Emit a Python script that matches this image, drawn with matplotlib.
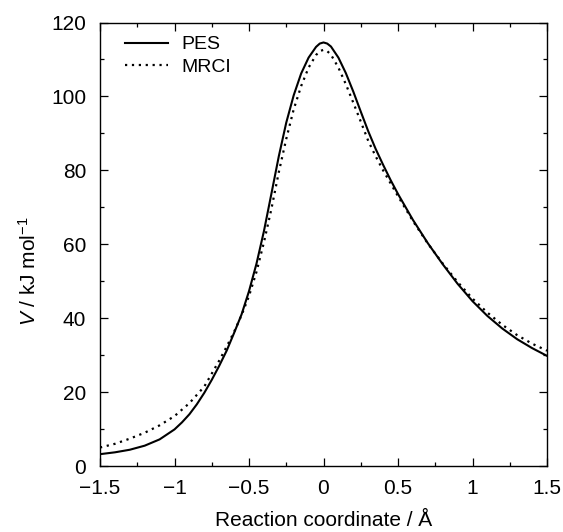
import matplotlib
matplotlib.use("Agg")
import matplotlib.pyplot as plt
from matplotlib.ticker import MultipleLocator

plt.rcParams['font.family'] = ['Liberation Sans', 'DejaVu Sans']
plt.rcParams['mathtext.fontset'] = 'custom'
plt.rcParams['mathtext.rm'] = 'Liberation Sans'
plt.rcParams['mathtext.it'] = 'Liberation Sans:italic'

# reaction coordinate (Angstrom) and potential (kJ/mol)
x_pes = [-1.5, -1.4, -1.3, -1.2, -1.1, -1.0, -0.95, -0.9, -0.85, -0.8, -0.75,
         -0.7, -0.65, -0.6, -0.55, -0.5, -0.45, -0.4, -0.35, -0.3, -0.25,
         -0.2, -0.15, -0.1, -0.05, -0.025, 0.0, 0.025, 0.05, 0.1, 0.15, 0.2, 0.25, 0.3,
         0.35, 0.4, 0.45, 0.5, 0.6, 0.7, 0.8, 0.9, 1.0, 1.1, 1.2, 1.3, 1.4, 1.5]
v_pes = [3.2, 3.7, 4.4, 5.5, 7.2, 9.9, 11.8, 14.0, 16.7, 19.8, 23.3,
         27.1, 31.2, 36.0, 41.0, 47.3, 54.7, 63.5, 73.6, 83.8, 92.9,
         100.3, 106.2, 110.5, 113.4, 114.3, 114.6, 114.3, 113.5, 110.5, 106.3, 101.3, 95.9, 90.6,
         85.8, 81.5, 77.4, 73.6, 66.6, 60.3, 54.6, 49.3, 44.6, 40.6, 37.2, 34.3, 31.9, 29.8]

x_mrci = [-1.5, -1.4, -1.3, -1.2, -1.1, -1.0, -0.9, -0.8, -0.75, -0.7, -0.65,
          -0.6, -0.55, -0.5, -0.45, -0.4, -0.35, -0.3, -0.25, -0.2, -0.15,
          -0.1, -0.05, -0.025, 0.0, 0.025, 0.05, 0.1, 0.15, 0.2, 0.25, 0.3, 0.35, 0.4,
          0.45, 0.5, 0.6, 0.7, 0.8, 0.9, 1.0, 1.1, 1.2, 1.3, 1.4, 1.5]
v_mrci = [5.0, 6.0, 7.4, 9.0, 11.0, 13.5, 17.0, 21.5, 25.0, 28.5, 32.3,
          36.3, 40.8, 46.0, 52.5, 60.5, 69.5, 79.5, 88.5, 96.5, 102.8,
          107.8, 111.2, 112.25, 112.6, 112.25, 111.3, 107.8, 103.3, 98.3, 93.2, 88.0, 83.8, 80.0,
          76.5, 73.0, 66.3, 60.2, 54.8, 49.8, 45.3, 41.5, 38.2, 35.4, 33.1, 31.2]

xticks = [-1.5, -1, -0.5, 0, 0.5, 1, 1.5]
xtick_labels = ['\u22121.5', '\u22121', '\u22120.5', '0', '0.5', '1', '1.5']

fig = plt.figure(figsize=(5.63, 5.32), dpi=100)
ax = fig.add_axes([100 / 563, 66 / 532, 447 / 563, 443.5 / 532])

ax.plot(x_pes, v_pes, color='black', lw=1.5, ls='-', label='PES')
ax.plot(x_mrci, v_mrci, color='black', lw=1.6, ls=(0, (1, 2.1)), label='MRCI')

ax.set_xlim(-1.5, 1.5)
ax.set_ylim(0, 120)
ax.set_xticks(xticks)
ax.set_xticklabels(xtick_labels)
ax.xaxis.set_minor_locator(MultipleLocator(0.25))
ax.yaxis.set_major_locator(MultipleLocator(20))
ax.yaxis.set_minor_locator(MultipleLocator(10))
ax.tick_params(which='both', direction='in', top=True, right=True, width=0.9, labelsize=15)
ax.tick_params(which='major', length=6)
ax.tick_params(which='minor', length=3)
ax.tick_params(axis='x', which='major', pad=9)
ax.tick_params(axis='y', which='major', pad=10)
for s in ax.spines.values():
    s.set_linewidth(1.0)

ax.set_xlabel('Reaction coordinate / \u00c5', fontsize=15, labelpad=10)
ax.set_ylabel(r'$V$ / kJ mol$^{-1}$', fontsize=15)
ax.yaxis.set_label_coords(-0.135, 0.44)

ax.legend(loc='upper left', bbox_to_anchor=(0.056, 0.97), frameon=False, fontsize=14,
          handlelength=2.2, handletextpad=0.7, labelspacing=0.25, borderaxespad=0, borderpad=0)

fig.savefig('out.png', dpi=100)
